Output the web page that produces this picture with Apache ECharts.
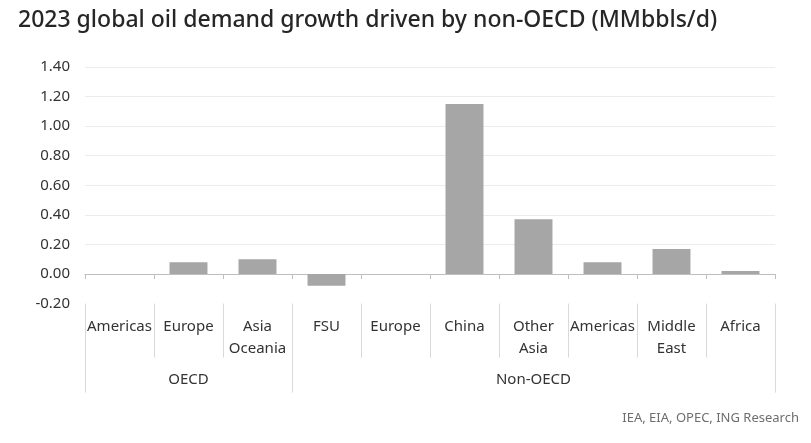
<!DOCTYPE html>
<html>
<head>
<meta charset="utf-8">
<script src="https://cdn.jsdelivr.net/npm/echarts@6/dist/echarts.min.js"></script>
<style>html,body{margin:0;padding:0;background:#fff}#c{width:811px;height:443px}</style>
</head>
<body>
<div id="c"></div>
<script>
const categories = ['Americas','Europe','Asia\nOceania','FSU','Europe','China','Other\nAsia','Americas','Middle\nEast','Africa'];
const values = [0.00, 0.08, 0.10, -0.08, 0.00, 1.15, 0.37, 0.08, 0.17, 0.02];
const groups = ['OECD','Non-OECD'];
const groupSizes = [3, 7];
const yTicks = { min: -0.2, max: 1.4, interval: 0.2 };
const sourceText = 'IEA, EIA, OPEC, ING Research';
const titleText = '2023 global oil demand growth driven by non-OECD (MMbbls/d)';

// group boundaries and label positions (category indices)
const boundaries = [0];
const groupLabelAt = {};
let acc = 0;
groups.forEach((g, i) => {
  const mid = acc + Math.floor(groupSizes[i] / 2);
  groupLabelAt[mid] = g;
  acc += groupSizes[i];
  boundaries.push(acc);
});

const FONT = '"Noto Sans", "Open Sans", sans-serif';
const chart = echarts.init(document.getElementById('c'), null, {renderer: 'canvas'});
const L = 85, R = 811 - 775;
chart.setOption({
  animation: false,
  backgroundColor: '#ffffff',
  title: {
    text: titleText, left: 13, top: 4,
    textStyle: {fontFamily: FONT, fontSize: 23, fontWeight: 500, color: '#262626'}
  },
  graphic: [{
    type: 'text', right: 12, top: 412,
    style: {text: sourceText, font: '13px ' + FONT, fill: '#6e6e6e'}
  }],
  grid: [
    {left: L, right: R, top: 67, height: 236.6},
    {left: L, right: R, top: 303.6, height: 54},
    {left: L, right: R, top: 357.6, height: 35}
  ],
  xAxis: [
    {
      gridIndex: 0, type: 'category', data: categories,
      axisLine: {onZero: true, lineStyle: {color: '#bfbfbf', width: 1}},
      axisTick: {show: true, length: 5, lineStyle: {color: '#bfbfbf'}},
      axisLabel: {show: false}
    },
    {
      gridIndex: 1, type: 'category', data: categories, position: 'top',
      axisLine: {show: false}, axisTick: {show: false},
      splitLine: {show: true, lineStyle: {color: '#d9d9d9', width: 1}},
      axisLabel: {
        show: true, inside: true, margin: 12, interval: 0,
        fontFamily: FONT, fontSize: 15, color: '#333', lineHeight: 22,
        verticalAlign: 'top'
      }
    },
    {
      gridIndex: 2, type: 'category', data: categories, position: 'top',
      axisLine: {show: false}, axisTick: {show: false},
      splitLine: {
        show: true, lineStyle: {color: '#d9d9d9', width: 1},
        interval: (idx) => boundaries.includes(idx)
      },
      axisLabel: {
        show: true, inside: true, margin: 15,
        interval: (idx) => groupLabelAt[idx] !== undefined,
        formatter: (v, idx) => groupLabelAt[idx] || '',
        fontFamily: FONT, fontSize: 15, color: '#333', verticalAlign: 'top'
      }
    }
  ],
  yAxis: [
    {
      gridIndex: 0, type: 'value', min: yTicks.min, max: yTicks.max, interval: yTicks.interval,
      axisLine: {show: false}, axisTick: {show: false},
      axisLabel: {fontFamily: FONT, fontSize: 15, color: '#333', margin: 15, formatter: v => v.toFixed(2)},
      splitLine: {show: true, showMinLine: false, lineStyle: {color: '#ececec', width: 1}}
    },
    {gridIndex: 1, type: 'value', show: false},
    {gridIndex: 2, type: 'value', show: false}
  ],
  series: [{
    type: 'bar', xAxisIndex: 0, yAxisIndex: 0, data: values,
    barWidth: '55%', itemStyle: {color: '#a6a6a6'}
  }]
});
</script>
</body>
</html>
